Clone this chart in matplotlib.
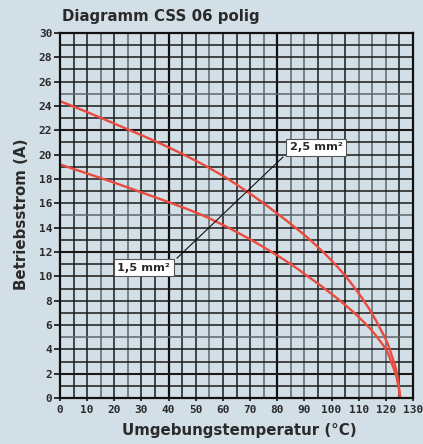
import matplotlib
matplotlib.use("Agg")
import matplotlib.pyplot as plt
from matplotlib.path import Path
from matplotlib.patches import PathPatch
import numpy as np

# Data
temp_25 = [0, 10, 20, 30, 40, 50, 57, 65, 75, 85, 90, 95, 100, 105, 110, 115, 120, 122, 124, 125.3]
amp_25 = [24.4, 23.5, 22.55, 21.6, 20.6, 19.5, 18.65, 17.55, 16.0, 14.3, 13.4, 12.4, 11.3, 10.05, 8.6, 6.9, 4.8, 3.6, 2.1, 0.0]

temp_15 = [0, 10, 20, 30, 40, 50, 57, 65, 75, 85, 90, 95, 100, 105, 110, 115, 120, 122, 124, 125.3]
amp_15 = [19.2, 18.45, 17.7, 16.9, 16.1, 15.25, 14.55, 13.65, 12.4, 11.0, 10.2, 9.4, 8.55, 7.65, 6.65, 5.5, 4.0, 2.95, 1.65, 0.0]

x_ticks = list(range(0, 131, 10))
y_ticks = list(range(0, 31, 2))
labels = ["2,5 mm²", "1,5 mm²"]
title = "Diagramm CSS 06 polig"
xlabel = "Umgebungstemperatur (°C)"
ylabel = "Betriebsstrom (A)"

bg = "#d3dfe7"
red = "#eb4a3e"
ink = "#2a2a2a"

fig = plt.figure(figsize=(4.23, 4.44), dpi=100, facecolor=bg)
ax = fig.add_axes([60/423, 46/444, 353/423, 365/444], facecolor=bg)
ax.set_xlim(0, 130)
ax.set_ylim(0, 30)

gray_v = {15, 25, 55, 75, 85, 90, 100, 110, 115, 120}
thick_v = {40, 80}
for xv in range(5, 130, 5):
    if xv in thick_v:
        ax.axvline(xv, color="#111111", lw=1.6, zorder=1)
    elif xv in gray_v:
        ax.axvline(xv, color="#5d656c", lw=1.1, zorder=1)
    else:
        ax.axvline(xv, color="#1a1a1a", lw=1.1, zorder=1)
for yv in range(1, 30):
    lw = 1.5 if yv in (2, 12, 22) else 1.1
    col = "#5d656c" if yv in (25, 15, 5) else "#1a1a1a"
    ax.axhline(yv, color=col, lw=lw, zorder=1)


def smooth_path(xs, ys):
    """Catmull-Rom curve through the read points, as cubic Bezier segments."""
    p = np.column_stack([xs, ys]).astype(float)
    verts = [p[0]]
    codes = [Path.MOVETO]
    n = len(p)
    for i in range(n - 1):
        p0 = p[i - 1] if i > 0 else p[i]
        p1, p2 = p[i], p[i + 1]
        p3 = p[i + 2] if i + 2 < n else p[i + 1]
        c1 = p1 + (p2 - p0) / 6.0
        c2 = p2 - (p3 - p1) / 6.0
        verts += [c1, c2, p2]
        codes += [Path.CURVE4] * 3
    return Path(verts, codes)


for xs, ys in ((temp_25, amp_25), (temp_15, amp_15)):
    ax.add_patch(PathPatch(smooth_path(xs, ys), fc="none", ec=red, lw=1.7,
                           zorder=3, capstyle="butt"))

# leader line between labels
ax.plot([43.1, 82.1], [11.5, 19.8], color="#111111", lw=0.8, zorder=4)

box = dict(boxstyle="square,pad=0.3", fc="white", ec="#555555", lw=0.8)
ax.text(94.3, 20.6, labels[0], ha="center", va="center", fontsize=8.2,
        fontweight="bold", family="DejaVu Sans", color=ink, bbox=box, zorder=5)
ax.text(30.9, 10.7, labels[1], ha="center", va="center", fontsize=8.2,
        fontweight="bold", family="DejaVu Sans", color=ink, bbox=box, zorder=5)

for s in ax.spines.values():
    s.set_color("#111111")
    s.set_linewidth(1.6)
    s.set_zorder(6)

ax.set_xticks(x_ticks)
ax.set_yticks(y_ticks)
ax.tick_params(axis="y", direction="out", length=4.5, width=1.2, color="#111111",
               pad=1, labelsize=8, labelcolor=ink)
ax.tick_params(axis="x", direction="out", length=2.2, width=1.2, color="#111111",
               pad=3, labelsize=8, labelcolor=ink)
for lab in ax.get_xticklabels() + ax.get_yticklabels():
    lab.set_family("DejaVu Sans Mono")
    lab.set_fontweight("bold")

fig.text(239.5/423, 9/444, xlabel, fontsize=10.8, fontweight="bold",
         color=ink, ha="center", va="baseline")
fig.text(21/423, 1 - 214/444, ylabel, fontsize=10.8, fontweight="bold",
         color=ink, ha="center", va="center", rotation=90)
fig.text(62/423, 1 - 21/444, title, fontsize=10.8,
         fontweight="bold", color=ink, ha="left", va="baseline")

fig.savefig("out.png", dpi=100, facecolor=bg)
